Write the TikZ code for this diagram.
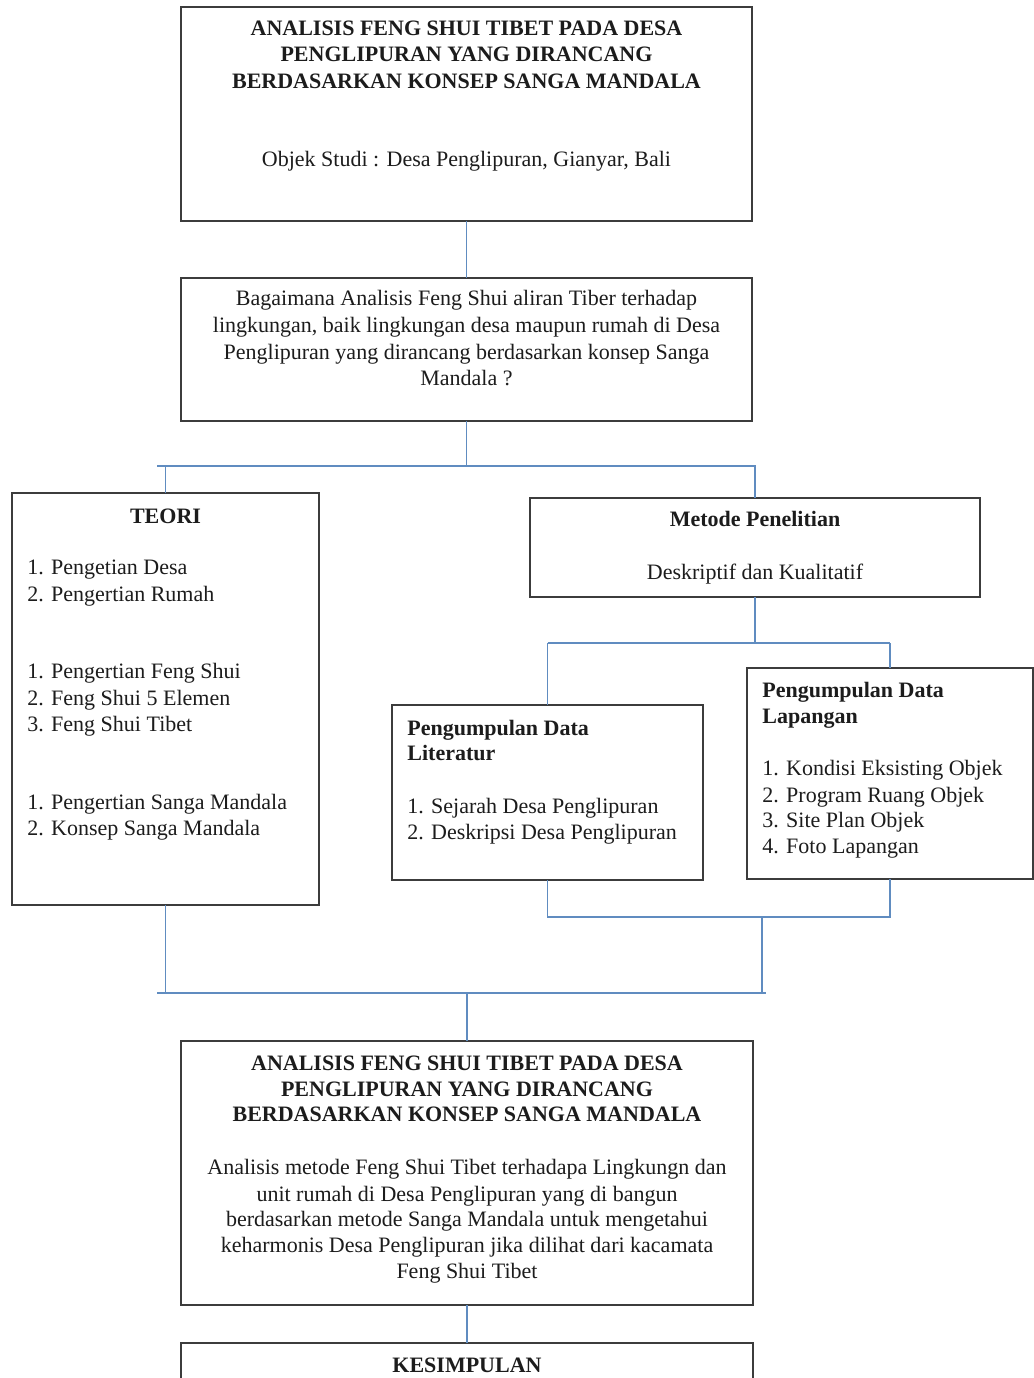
\documentclass[tikz,border=0pt]{standalone}
\usepackage{fontspec}
\setmainfont{Liberation Serif}
\definecolor{connblue}{RGB}{96,140,192}
\definecolor{boxgray}{RGB}{60,60,60}
\definecolor{txtcol}{RGB}{28,28,28}
\begin{document}
\begin{tikzpicture}[x=0.5pt,y=-0.5pt,
  box/.style={draw=boxgray, line width=0.75pt, inner sep=0pt, outer sep=0pt, fill=white},
  conn/.style={draw=connblue, line width=0.75pt},
  txt/.style={font=\fontsize{11}{13.25}\selectfont, inner sep=0pt, anchor=base, text=txtcol},
  ltxt/.style={txt, anchor=base west},
  btxt/.style={txt, font=\fontsize{11}{13.25}\selectfont\bfseries},
  lbtxt/.style={btxt, anchor=base west}]
\fill[white] (0,0) rectangle (1034,1378);
\useasboundingbox (0,0) rectangle (1034,1378);
% boxes
\node[box, minimum width=285.5pt, minimum height=107pt] (top) at (466.5,114) {};
\node[box, minimum width=285.5pt, minimum height=71.5pt] (q) at (466.5,349.5) {};
\node[box, minimum width=153.5pt, minimum height=206pt] (teori) at (165.5,699) {};
\node[box, minimum width=225pt, minimum height=49.5pt] (metode) at (755,547.5) {};
\node[box, minimum width=155.5pt, minimum height=87.5pt] (lit) at (547.5,792.5) {};
\node[box, minimum width=143pt, minimum height=105.5pt] (lap) at (890,773.5) {};
\node[box, minimum width=286pt, minimum height=132pt] (hasil) at (467,1173) {};
\node[box, minimum width=286pt, minimum height=38.5pt] (kes) at (467,1381.5) {};
% junction coordinates
\coordinate (j1) at (466.5,466);
\coordinate (h1L) at (157,466);
\coordinate (h1R) at (756,466);
\coordinate (j2) at (755,643);
\coordinate (j3) at (762,917);
\coordinate (j4) at (762,993);
\coordinate (h4L) at (157,993);
\coordinate (h4R) at (766,993);
% connectors
\draw[conn] (top.south) -- (q.north);
\draw[conn] (q.south) -- (j1);
\draw[conn] (h1L) -- (h1R);
\draw[conn] (teori.north) -- (teori.north |- j1);
\draw[conn] (metode.north) -- (metode.north |- j1);
\draw[conn] (metode.south) -- (j2);
\draw[conn] (lit.north |- j2) -- (lap.north |- j2);
\draw[conn] (lit.north) -- (lit.north |- j2);
\draw[conn] (lap.north) -- (lap.north |- j2);
\draw[conn] (lit.south) -- (lit.south |- j3) -- (lap.south |- j3) -- (lap.south);
\draw[conn] (j3) -- (j4);
\draw[conn] (teori.south) -- (teori.south |- j4);
\draw[conn] (h4L) -- (h4R);
\draw[conn] (hasil.north |- j4) -- (hasil.north);
\draw[conn] (hasil.south) -- (kes.north);
% top box text
\node[btxt] (t1) at (466.5,35) {ANALISIS FENG SHUI TIBET PADA DESA};
\node[btxt] (t2) at (466.5,61.5) {PENGLIPURAN YANG DIRANCANG};
\node[btxt] (t3) at (466.5,88) {BERDASARKAN KONSEP SANGA MANDALA};
\node[txt] (t4) at (466.5,166) {Objek Studi : Desa Penglipuran, Gianyar, Bali};
% question
\node[txt] (q1) at (466.5,305) {Bagaimana Analisis Feng Shui aliran Tiber terhadap};
\node[txt] (q2) at (466.5,332) {lingkungan, baik lingkungan desa maupun rumah di Desa};
\node[txt] (q3) at (466.5,359) {Penglipuran yang dirancang berdasarkan konsep Sanga};
\node[txt] (q4) at (466.5,385) {Mandala ?};
% teori
\node[btxt] (te0) at (165.5,523) {TEORI};
\node[ltxt] (te1) at (27,574) {1. Pengetian Desa};
\node[ltxt] (te2) at (27,601) {2. Pengertian Rumah};
\node[ltxt] (te3) at (27,678) {1. Pengertian Feng Shui};
\node[ltxt] (te4) at (27,705) {2. Feng Shui 5 Elemen};
\node[ltxt] (te5) at (27,731) {3. Feng Shui Tibet};
\node[ltxt] (te6) at (27,809) {1. Pengertian Sanga Mandala};
\node[ltxt] (te7) at (27,835) {2. Konsep Sanga Mandala};
% metode
\node[btxt] (m1) at (755,526) {Metode Penelitian};
\node[txt] (m2) at (755,579) {Deskriptif dan Kualitatif};
% literatur
\node[lbtxt] (l1) at (407,735) {Pengumpulan Data};
\node[lbtxt] (l2) at (407,760) {Literatur};
\node[ltxt] (l3) at (407,813) {1. Sejarah Desa Penglipuran};
\node[ltxt] (l4) at (407,839) {2. Deskripsi Desa Penglipuran};
% lapangan
\node[lbtxt] (p1) at (762,697) {Pengumpulan Data};
\node[lbtxt] (p2) at (762,723) {Lapangan};
\node[ltxt] (p3) at (762,775) {1. Kondisi Eksisting Objek};
\node[ltxt] (p4) at (762,802) {2. Program Ruang Objek};
\node[ltxt] (p5) at (762,827) {3. Site Plan Objek};
\node[ltxt] (p6) at (762,853) {4. Foto Lapangan};
% hasil
\node[btxt] (h1) at (467,1070) {ANALISIS FENG SHUI TIBET PADA DESA};
\node[btxt] (h2) at (467,1096) {PENGLIPURAN YANG DIRANCANG};
\node[btxt] (h3) at (467,1121) {BERDASARKAN KONSEP SANGA MANDALA};
\node[txt] (h4) at (467,1174) {Analisis metode Feng Shui Tibet terhadapa Lingkungn dan};
\node[txt] (h5) at (467,1201) {unit rumah di Desa Penglipuran yang di bangun};
\node[txt] (h6) at (467,1226) {berdasarkan metode Sanga Mandala untuk mengetahui};
\node[txt] (h7) at (467,1252) {keharmonis Desa Penglipuran jika dilihat dari kacamata};
\node[txt] (h8) at (467,1278) {Feng Shui Tibet};
% kesimpulan
\node[btxt] (k1) at (467,1372) {KESIMPULAN};
\end{tikzpicture}
\end{document}
